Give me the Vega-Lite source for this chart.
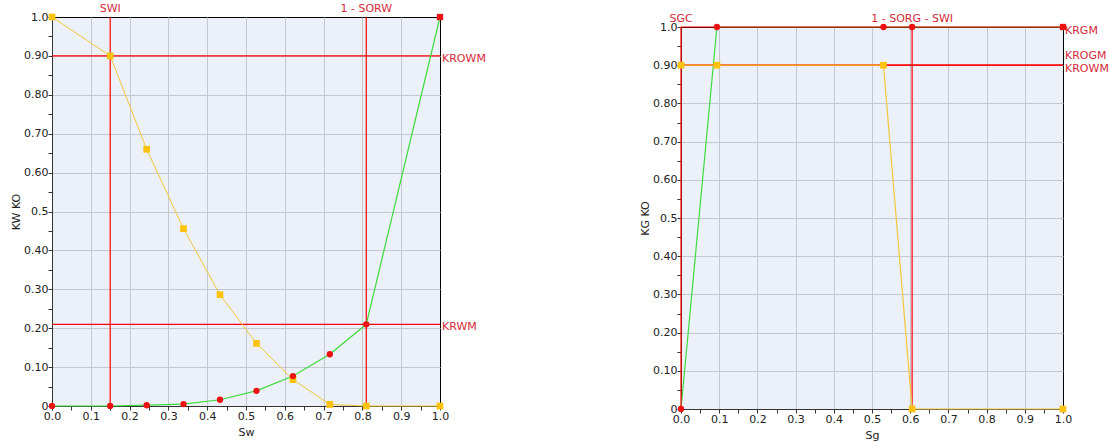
{
  "$schema": "https://vega.github.io/schema/vega-lite/v6.json",
  "padding": {"left": 10, "top": 2, "right": 0, "bottom": 0},
  "background": "#ffffff",
  "datasets": {
    "kwko": [
      {"Sw": 0.0, "krw": 0.0, "kro": 1.0},
      {"Sw": 0.15, "krw": 0.0, "kro": 0.9},
      {"Sw": 0.244, "krw": 0.002, "kro": 0.66},
      {"Sw": 0.339, "krw": 0.005, "kro": 0.456},
      {"Sw": 0.433, "krw": 0.016, "kro": 0.286},
      {"Sw": 0.527, "krw": 0.039, "kro": 0.161},
      {"Sw": 0.621, "krw": 0.077, "kro": 0.068},
      {"Sw": 0.716, "krw": 0.133, "kro": 0.004},
      {"Sw": 0.81, "krw": 0.21, "kro": 0.0},
      {"Sw": 1.0, "krw": 1.0, "kro": 0.0}
    ],
    "kgko": [
      {"Sg": 0.0, "krg": 0.0, "kro": 0.9},
      {"Sg": 0.094, "krg": 1.0, "kro": 0.9},
      {"Sg": 0.53, "krg": 1.0, "kro": 0.9},
      {"Sg": 0.605, "krg": 1.0, "kro": 0.0},
      {"Sg": 1.0, "krg": 1.0, "kro": 0.0}
    ],
    "leftV": [{"v": 0.15, "label": "SWI"}, {"v": 0.81, "label": "1 - SORW"}],
    "leftH": [{"v": 0.9, "label": "KROWM"}, {"v": 0.21, "label": "KRWM"}],
    "rightV": [{"v": 0.0, "label": "SGC"}, {"v": 0.605, "label": "1 - SORG - SWI"}],
    "rightH": [{"v": 1.0, "label": "KRGM"}, {"v": 0.9, "label": "KROGM"}, {"v": 0.9, "label": "KROWM"}]
  },
  "hconcat": [
    {
      "width": 388,
      "height": 389,
      "resolve": {"axis": {"x": "independent", "y": "independent"}},
      "layer": [
        {
          "data": {"name": "leftV"},
          "mark": {"type": "rule", "color": "#ff0000", "strokeWidth": 1.2},
          "encoding": {
            "x": {"field": "v", "type": "quantitative", "scale": {"domain": [0, 1], "nice": false, "zero": false},
              "axis": {"orient": "top", "values": [0.1, 0.2, 0.3, 0.4, 0.5, 0.6, 0.7, 0.8, 0.9], "grid": true, "labels": false, "ticks": false, "domain": false, "title": null}}
          }
        },
        {
          "data": {"name": "leftH"},
          "mark": {"type": "rule", "color": "#ff0000", "strokeWidth": 1.2},
          "encoding": {
            "y": {"field": "v", "type": "quantitative", "scale": {"domain": [0, 1], "nice": false, "zero": false},
              "axis": {"orient": "right", "values": [0.1, 0.2, 0.3, 0.4, 0.5, 0.6, 0.7, 0.8, 0.9], "grid": true, "labels": false, "ticks": false, "domain": false, "title": null}}
          }
        },
        {
          "data": {"name": "kwko"},
          "mark": {"type": "line", "color": "#f2c93a", "strokeWidth": 1},
          "encoding": {
            "x": {"field": "Sw", "type": "quantitative",
              "axis": {"orient": "bottom", "title": "Sw", "grid": false, "values": [0, 0.05, 0.1, 0.15, 0.2, 0.25, 0.3, 0.35, 0.4, 0.45, 0.5, 0.55, 0.6, 0.65, 0.7, 0.75, 0.8, 0.85, 0.9, 0.95, 1], "labelExpr": "round(datum.value*100) % 10 == 0 ? format(datum.value, '.1f') : ''", "labelOverlap": false, "labelFlush": false, "titlePadding": 5}},
            "y": {"field": "kro", "type": "quantitative",
              "axis": {"orient": "left", "title": "KW KO", "grid": false, "values": [0, 0.05, 0.1, 0.15, 0.2, 0.25, 0.3, 0.35, 0.4, 0.45, 0.5, 0.55, 0.6, 0.65, 0.7, 0.75, 0.8, 0.85, 0.9, 0.95, 1], "labelExpr": "round(datum.value*100) % 10 != 0 ? '' : datum.value == 0 ? '0' : round(datum.value*100) == 50 ? '0.5' : datum.value == 1 ? '1.0' : format(datum.value, '.2f')", "labelOverlap": false, "labelFlush": false, "titlePadding": 2}}
          }
        },
        {
          "data": {"name": "kwko"},
          "mark": {"type": "line", "color": "#3ddc3d", "strokeWidth": 1.2},
          "encoding": {
            "x": {"field": "Sw", "type": "quantitative", "axis": null},
            "y": {"field": "krw", "type": "quantitative", "axis": null}
          }
        },
        {
          "data": {"name": "kwko"},
          "mark": {"type": "point", "shape": "square", "filled": true, "color": "#ffc20e", "size": 45, "opacity": 1},
          "encoding": {
            "x": {"field": "Sw", "type": "quantitative", "axis": null},
            "y": {"field": "kro", "type": "quantitative", "axis": null}
          }
        },
        {
          "data": {"name": "kwko"},
          "mark": {"type": "point", "filled": true, "color": "#ee1111", "size": 40, "opacity": 1},
          "encoding": {
            "x": {"field": "Sw", "type": "quantitative", "axis": null},
            "y": {"field": "krw", "type": "quantitative", "axis": null},
            "shape": {"condition": {"test": "datum.Sw == 1", "value": "square"}, "value": "circle"}
          }
        },
        {
          "data": {"name": "leftV"},
          "mark": {"type": "text", "align": "center", "baseline": "alphabetic", "dy": -5, "color": "#d42a3a", "fontSize": 11},
          "encoding": {
            "x": {"field": "v", "type": "quantitative", "axis": null},
            "y": {"datum": 1, "type": "quantitative", "axis": null},
            "text": {"field": "label"}
          }
        },
        {
          "data": {"name": "leftH"},
          "mark": {"type": "text", "align": "left", "baseline": "middle", "dx": 2, "dy": 3, "color": "#d42a3a", "fontSize": 11},
          "encoding": {
            "x": {"datum": 1, "type": "quantitative", "axis": null},
            "y": {"field": "v", "type": "quantitative", "axis": null},
            "text": {"field": "label"}
          }
        }
      ]
    },
    {
      "vconcat": [
        {
          "width": 382,
          "height": 1,
          "view": {"stroke": null, "fill": null},
          "data": {"values": []},
          "mark": {"type": "point", "opacity": 0}
        },
        {
          "width": 382,
          "height": 382,
          "resolve": {"axis": {"x": "independent", "y": "independent"}},
          "layer": [
            {
              "data": {"name": "kgko"},
              "mark": {"type": "line", "color": "#3ddc3d", "strokeWidth": 1.2},
              "encoding": {
                "x": {"field": "Sg", "type": "quantitative", "axis": null, "scale": {"domain": [0, 1], "nice": false, "zero": false}},
                "y": {"field": "krg", "type": "quantitative", "axis": null, "scale": {"domain": [0, 1], "nice": false, "zero": false}}
              }
            },
            {
              "data": {"name": "rightV"},
              "mark": {"type": "rule", "color": "#ff0000", "strokeWidth": 1.2},
              "encoding": {
                "x": {"field": "v", "type": "quantitative",
                  "axis": {"orient": "top", "values": [0.1, 0.2, 0.3, 0.4, 0.5, 0.6, 0.7, 0.8, 0.9], "grid": true, "labels": false, "ticks": false, "domain": false, "title": null}}
              }
            },
            {
              "data": {"name": "rightH"},
              "mark": {"type": "rule", "color": "#ff0000", "strokeWidth": 1.2},
              "encoding": {
                "y": {"field": "v", "type": "quantitative",
                  "axis": {"orient": "right", "values": [0.1, 0.2, 0.3, 0.4, 0.5, 0.6, 0.7, 0.8, 0.9], "grid": true, "labels": false, "ticks": false, "domain": false, "title": null}}
              }
            },
            {
              "data": {"name": "kgko"},
              "mark": {"type": "line", "color": "#f2c93a", "strokeWidth": 1.2},
              "encoding": {
                "x": {"field": "Sg", "type": "quantitative",
                  "axis": {"orient": "bottom", "title": "Sg", "grid": false, "values": [0, 0.05, 0.1, 0.15, 0.2, 0.25, 0.3, 0.35, 0.4, 0.45, 0.5, 0.55, 0.6, 0.65, 0.7, 0.75, 0.8, 0.85, 0.9, 0.95, 1], "labelExpr": "round(datum.value*100) % 10 == 0 ? format(datum.value, '.1f') : ''", "labelOverlap": false, "labelFlush": false, "titlePadding": 5}},
                "y": {"field": "kro", "type": "quantitative",
                  "axis": {"orient": "left", "title": "KG KO", "grid": false, "values": [0, 0.05, 0.1, 0.15, 0.2, 0.25, 0.3, 0.35, 0.4, 0.45, 0.5, 0.55, 0.6, 0.65, 0.7, 0.75, 0.8, 0.85, 0.9, 0.95, 1], "labelExpr": "round(datum.value*100) % 10 != 0 ? '' : datum.value == 0 ? '0' : round(datum.value*100) == 50 ? '0.5' : datum.value == 1 ? '1.0' : format(datum.value, '.2f')", "labelOverlap": false, "labelFlush": false, "titlePadding": 2}}
              }
            },
            {
              "data": {"name": "kgko"},
              "mark": {"type": "point", "shape": "square", "filled": true, "color": "#ffc20e", "size": 45, "opacity": 1},
              "encoding": {
                "x": {"field": "Sg", "type": "quantitative", "axis": null},
                "y": {"field": "kro", "type": "quantitative", "axis": null}
              }
            },
            {
              "data": {"name": "kgko"},
              "mark": {"type": "point", "filled": true, "color": "#ee1111", "size": 40, "opacity": 1},
              "encoding": {
                "x": {"field": "Sg", "type": "quantitative", "axis": null},
                "y": {"field": "krg", "type": "quantitative", "axis": null},
                "shape": {"condition": {"test": "datum.Sg == 1", "value": "square"}, "value": "circle"}
              }
            },
            {
              "data": {"name": "rightV"},
              "mark": {"type": "text", "align": "center", "baseline": "alphabetic", "dy": -5, "color": "#d42a3a", "fontSize": 11},
              "encoding": {
                "x": {"field": "v", "type": "quantitative", "axis": null},
                "y": {"datum": 1, "type": "quantitative", "axis": null},
                "text": {"field": "label"}
              }
            },
            {
              "data": {"name": "rightH"},
              "transform": [{"filter": "datum.label != 'KROGM'"}],
              "mark": {"type": "text", "align": "left", "baseline": "middle", "dx": 2, "dy": 3.5, "color": "#d42a3a", "fontSize": 11},
              "encoding": {
                "x": {"datum": 1, "type": "quantitative", "axis": null},
                "y": {"field": "v", "type": "quantitative", "axis": null},
                "text": {"field": "label"}
              }
            },
            {
              "data": {"name": "rightH"},
              "transform": [{"filter": "datum.label == 'KROGM'"}],
              "mark": {"type": "text", "align": "left", "baseline": "middle", "dx": 2, "dy": -9, "color": "#d42a3a", "fontSize": 11},
              "encoding": {
                "x": {"datum": 1, "type": "quantitative", "axis": null},
                "y": {"field": "v", "type": "quantitative", "axis": null},
                "text": {"field": "label"}
              }
            }
          ]
        }
      ],
      "spacing": 9,
      "bounds": "flush"
    }
  ],
  "spacing": 241,
  "bounds": "flush",
  "config": {
    "font": "DejaVu Sans",
    "view": {"stroke": "#000000", "strokeWidth": 1, "fill": "#ecf0f8"},
    "axis": {
      "labelFont": "DejaVu Sans",
      "labelFontSize": 11,
      "labelColor": "#222222",
      "labelPadding": 0,
      "titleFont": "DejaVu Sans",
      "titleFontSize": 11,
      "titleFontWeight": "normal",
      "titleColor": "#222222",
      "tickColor": "#333333",
      "tickSize": 4,
      "domainColor": "#333333",
      "gridColor": "#c4c7cf",
      "gridOpacity": 1
    }
  }
}
